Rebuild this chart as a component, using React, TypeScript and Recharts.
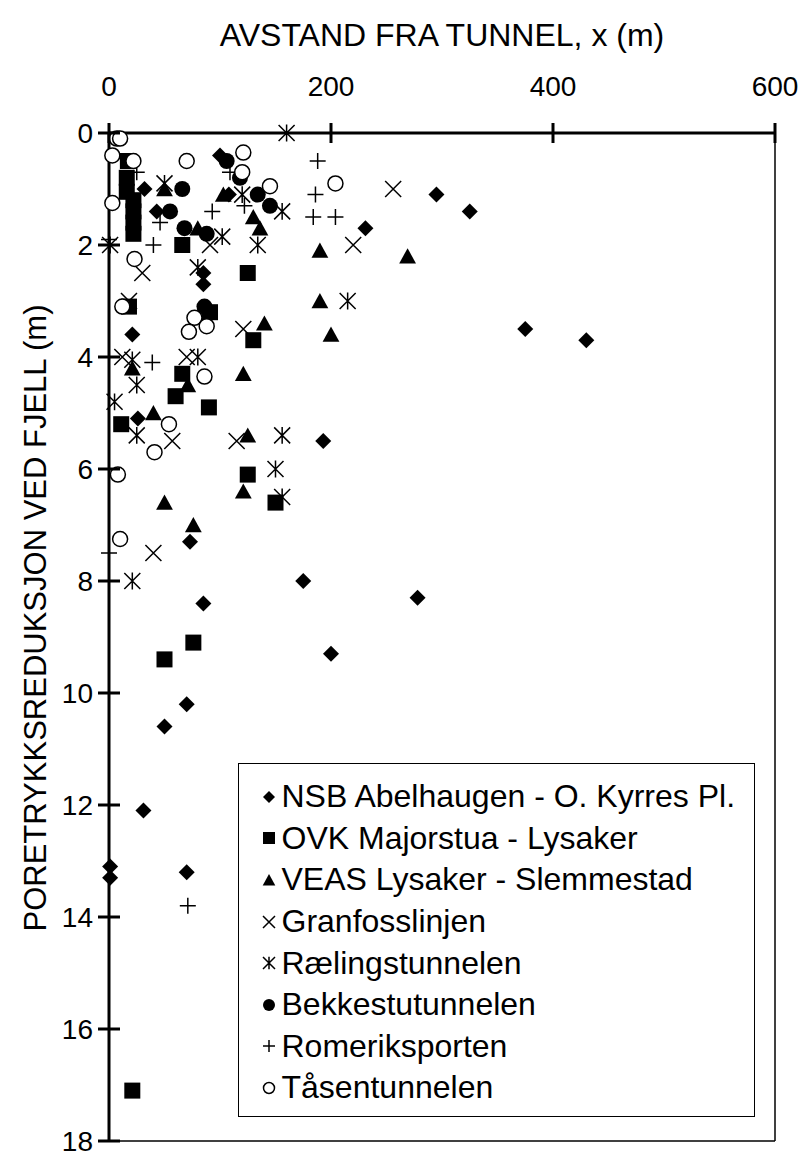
import { ScatterChart, Scatter, XAxis, YAxis, ReferenceLine, Legend } from 'recharts';

const FONT = '"Liberation Sans", Arial, Helvetica, sans-serif';

// distance from tunnel (m) vs pore pressure reduction at rock (m)
type Pt = [number, number];

const xTicks = [0, 200, 400, 600];
const yTicks = [0, 2, 4, 6, 8, 10, 12, 14, 16, 18];

const nsbAbelhaugen: Pt[] = [
  [100, 0.4], [32, 1.0], [43, 1.4], [108, 1.1], [85, 2.5], [85, 2.7], [295, 1.1], [325, 1.4],
  [231, 1.7], [375, 3.5], [430, 3.7], [21, 3.6], [26, 5.1], [193, 5.5], [73, 7.3], [175, 8.0],
  [85, 8.4], [278, 8.3], [200, 9.3], [70, 10.2], [50, 10.6], [31, 12.1], [1, 13.1], [1, 13.3],
  [70, 13.2],
];
const ovkMajorstua: Pt[] = [
  [17, 0.5], [16, 0.8], [16, 1.05], [22, 1.2], [22, 1.4], [22, 1.6], [22, 1.8], [66, 2.0],
  [125, 2.5], [18, 3.1], [91, 3.2], [130, 3.7], [66, 4.3], [60, 4.7], [90, 4.9], [11, 5.2],
  [125, 6.1], [150, 6.6], [76, 9.1], [50, 9.4], [21, 17.1],
];
const veasLysaker: Pt[] = [
  [50, 1.0], [103, 1.1], [80, 1.7], [130, 1.5], [136, 1.7], [190, 2.1], [269, 2.2], [190, 3.0],
  [200, 3.6], [140, 3.4], [121, 4.3], [21, 4.2], [71, 4.5], [40, 5.0], [125, 5.4], [121, 6.4],
  [50, 6.6], [76, 7.0],
];
const granfosslinjen: Pt[] = [
  [256, 1.0], [220, 2.0], [91, 2.0], [30, 2.5], [18, 3.0], [121, 3.5], [12, 4.0], [70, 4.0],
  [57, 5.5], [115, 5.5], [40, 7.5],
];
const raelingstunnelen: Pt[] = [
  [160, 0.0], [50, 0.9], [120, 1.1], [156, 1.4], [102, 1.85], [134, 2.0], [1, 2.0], [80, 2.4],
  [215, 3.0], [21, 4.05], [80, 4.0], [25, 4.5], [5, 4.8], [25, 5.4], [156, 5.4], [150, 6.0],
  [156, 6.5], [21, 8.0],
];
const bekkestutunnelen: Pt[] = [
  [106, 0.5], [118, 0.8], [66, 1.0], [134, 1.1], [55, 1.4], [145, 1.3], [68, 1.7], [88, 1.8],
  [86, 3.1],
];
const romeriksporten: Pt[] = [
  [188, 0.5], [25, 0.7], [109, 0.7], [186, 1.1], [122, 1.3], [93, 1.4], [184, 1.5], [204, 1.5],
  [46, 1.6], [40, 2.0], [0, 1.9], [39, 4.1], [0, 7.5], [71, 13.8],
];
const tasentunnelen: Pt[] = [
  [7, 0.1], [10, 0.1], [3, 0.4], [22, 0.5], [3, 1.25], [70, 0.5], [121, 0.35], [120, 0.7],
  [145, 0.95], [204, 0.9], [23, 2.25], [12, 3.1], [77, 3.3], [88, 3.45], [72, 3.55], [86, 4.35],
  [54, 5.2], [41, 5.7], [8, 6.1], [10, 7.25],
];

type Kind = 'diamond' | 'square' | 'triangle' | 'x' | 'star' | 'dot' | 'plus' | 'ring';

const series: { name: string; kind: Kind; data: Pt[] }[] = [
  { name: 'NSB Abelhaugen - O. Kyrres Pl.', kind: 'diamond', data: nsbAbelhaugen },
  { name: 'OVK Majorstua - Lysaker', kind: 'square', data: ovkMajorstua },
  { name: 'VEAS Lysaker - Slemmestad', kind: 'triangle', data: veasLysaker },
  { name: 'Granfosslinjen', kind: 'x', data: granfosslinjen },
  { name: 'Rælingstunnelen', kind: 'star', data: raelingstunnelen },
  { name: 'Bekkestutunnelen', kind: 'dot', data: bekkestutunnelen },
  { name: 'Romeriksporten', kind: 'plus', data: romeriksporten },
  { name: 'Tåsentunnelen', kind: 'ring', data: tasentunnelen },
];

function Marker({ kind, cx, cy, s = 8 }: { kind: Kind; cx: number; cy: number; s?: number }) {
  const sw = 1.5;
  switch (kind) {
    case 'diamond':
      return <path d={`M${cx},${cy - s}L${cx + s},${cy}L${cx},${cy + s}L${cx - s},${cy}Z`} fill="#000" />;
    case 'square':
      return <rect x={cx - s} y={cy - s} width={2 * s} height={2 * s} fill="#000" />;
    case 'triangle':
      return <path d={`M${cx},${cy - s}L${cx + s * 1.05},${cy + s * 0.9}L${cx - s * 1.05},${cy + s * 0.9}Z`} fill="#000" />;
    case 'x':
      return (
        <path d={`M${cx - s},${cy - s}L${cx + s},${cy + s}M${cx - s},${cy + s}L${cx + s},${cy - s}`} stroke="#000" strokeWidth={sw} fill="none" />
      );
    case 'star':
      return (
        <path
          d={`M${cx - s},${cy - s}L${cx + s},${cy + s}M${cx - s},${cy + s}L${cx + s},${cy - s}M${cx},${cy - s * 1.05}L${cx},${cy + s * 1.05}`}
          stroke="#000" strokeWidth={sw} fill="none"
        />
      );
    case 'dot':
      return <circle cx={cx} cy={cy} r={s} fill="#000" />;
    case 'plus':
      return <path d={`M${cx - s},${cy}L${cx + s},${cy}M${cx},${cy - s}L${cx},${cy + s}`} stroke="#000" strokeWidth={sw} fill="none" />;
    case 'ring':
      return <circle cx={cx} cy={cy} r={s - 0.5} fill="#fff" stroke="#000" strokeWidth={sw} />;
  }
}

const TopTick = (props: any) => {
  const { x, y, payload } = props;
  return (
    <g>
      <line x1={x} x2={x} y1={y + 27} y2={y + 47} stroke="#000" strokeWidth={3} />
      <text x={x} y={y} textAnchor="middle" fontSize={28} fontFamily={FONT} fill="#000">
        {payload.value}
      </text>
    </g>
  );
};

const LeftTick = (props: any) => {
  const { x, y, payload } = props;
  return (
    <g>
      <line x1={x + 5} x2={x + 27} y1={y} y2={y} stroke="#000" strokeWidth={3} />
      <text x={x} y={y} dy="0.36em" textAnchor="end" fontSize={28} fontFamily={FONT} fill="#000">
        {payload.value}
      </text>
    </g>
  );
};

const LegendBox = () => (
  <div
    style={{
      boxSizing: 'border-box',
      width: 517,
      height: 354,
      border: '1.5px solid #000',
      background: '#fff',
      paddingTop: 12,
      fontFamily: FONT,
      fontSize: 32,
      color: '#000',
    }}
  >
    {series.map((s) => (
      <div key={s.name} style={{ display: 'flex', alignItems: 'center', height: 41.6 }}>
        <svg width={22} height={22} style={{ marginLeft: 18.5, flex: 'none' }}>
          <Marker kind={s.kind} cx={11} cy={11} s={6} />
        </svg>
        <span style={{ whiteSpace: 'nowrap', marginLeft: 2 }}>{s.name}</span>
      </div>
    ))}
  </div>
);

export default function App() {
  return (
    <div style={{ position: 'absolute', left: 0, top: 0, width: 800, height: 1151, background: '#fff' }}>
      <ScatterChart width={800} height={1151} margin={{ top: 73, right: 25, bottom: 10, left: 9 }}>
        <XAxis
          type="number"
          dataKey="x"
          orientation="top"
          domain={[0, 600]}
          ticks={xTicks}
          height={60}
          tickSize={0}
          tickMargin={37}
          tickLine={false}
          axisLine={{ stroke: '#000', strokeWidth: 3 }}
          tick={<TopTick />}
          label={{
            content: (p: any) => (
              <text
                x={p.viewBox.x + p.viewBox.width / 2}
                y={46}
                textAnchor="middle"
                fontSize={32}
                fontFamily={FONT}
                fill="#000"
              >
                AVSTAND FRA TUNNEL, x (m)
              </text>
            ),
          }}
        />
        <YAxis
          type="number"
          dataKey="y"
          reversed
          domain={[0, 18]}
          ticks={yTicks}
          width={100}
          tickSize={0}
          tickMargin={16}
          tickLine={false}
          axisLine={{ stroke: '#000', strokeWidth: 3 }}
          tick={<LeftTick />}
          label={{
            content: () => (
              <text
                x={46}
                y={618}
                transform="rotate(-90 46 618)"
                textAnchor="middle"
                fontSize={31}
                fontFamily={FONT}
                fill="#000"
              >
                PORETRYKKSREDUKSJON VED FJELL (m)
              </text>
            ),
          }}
        />
        <ReferenceLine x={600} stroke="#000" strokeWidth={1.5} />
        <ReferenceLine y={18} stroke="#000" strokeWidth={1.5} />
        {series.map((s) => (
          <Scatter
            key={s.name}
            name={s.name}
            data={s.data.map(([x, y]) => ({ x, y }))}
            isAnimationActive={false}
            shape={(p: any) => <Marker kind={s.kind} cx={p.cx} cy={p.cy} />}
          />
        ))}
        <Legend
          layout="vertical"
          align="center"
          verticalAlign="middle"
          content={<LegendBox />}
          wrapperStyle={{ left: 238, top: 763, width: 517, height: 354 }}
        />
      </ScatterChart>
    </div>
  );
}
